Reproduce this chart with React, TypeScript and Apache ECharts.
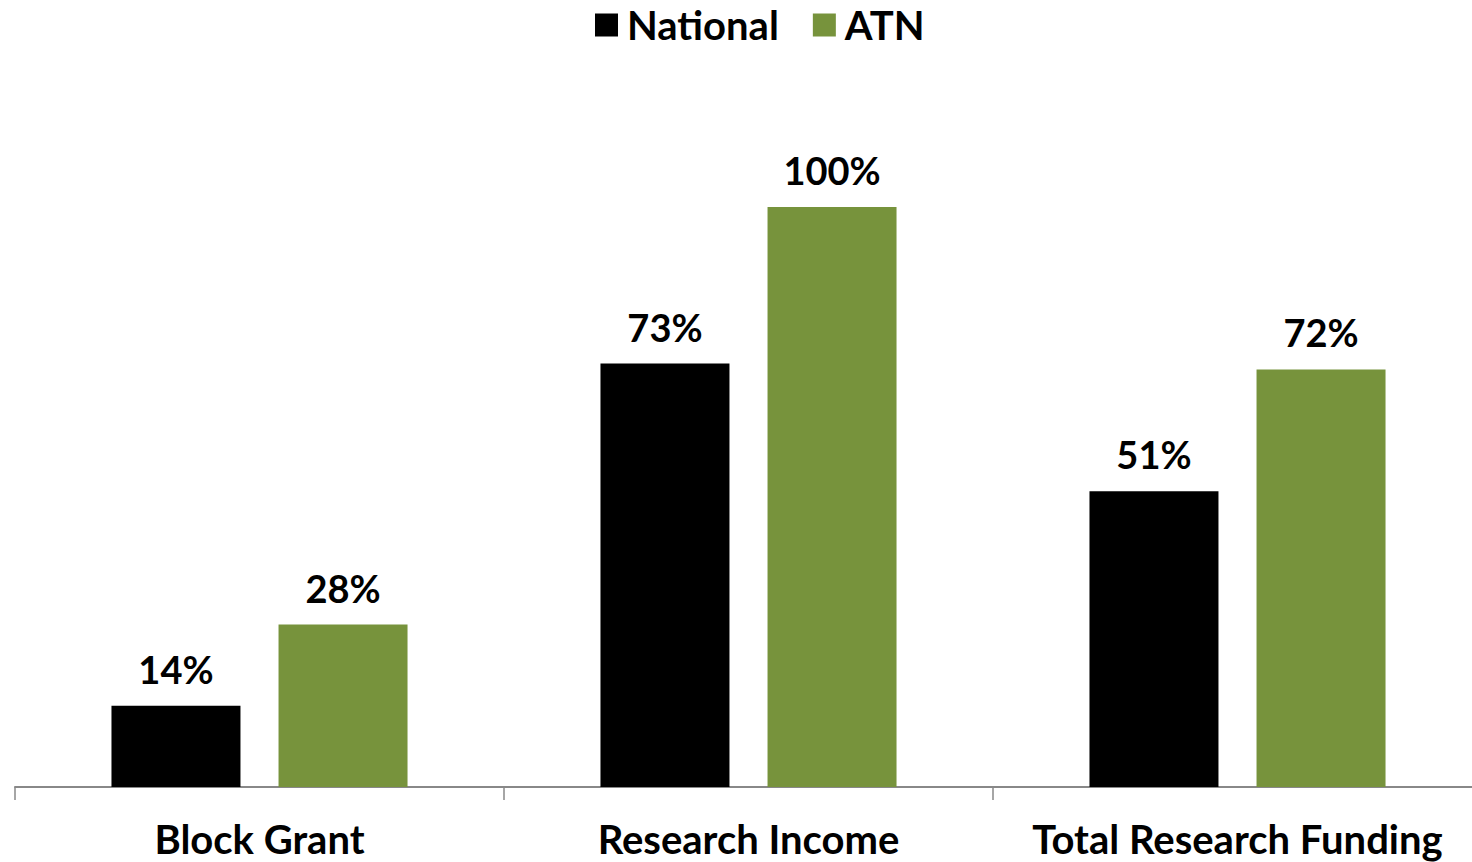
import React, { useEffect, useRef } from "react";
import * as echarts from "echarts";

const categories = ["Block Grant", "Research Income", "Total Research Funding"];
const nationalValues = [14, 73, 51];
const atnValues = [28, 100, 72];
const seriesNames = ["National", "ATN"];

const FONT = "Lato";

export default function App() {
  const ref = useRef<HTMLDivElement>(null);
  useEffect(() => {
    if (!ref.current) return;
    const chart = echarts.init(ref.current, null, { renderer: "svg" });
    const labelStyle = {
      show: true,
      position: "top" as const,
      distance: 18,
      formatter: "{c}%",
      fontFamily: FONT,
      fontWeight: "bold" as const,
      fontSize: 38,
      color: "#000",
    };
    chart.setOption({
      animation: false,
      backgroundColor: "#fff",
      legend: {
        top: 0,
        left: 590,
        itemWidth: 23,
        itemHeight: 23,
        itemGap: 34,
        icon: "rect",
        textStyle: {
          fontFamily: FONT,
          fontWeight: "bold",
          fontSize: 40,
          color: "#000",
          padding: [0, 0, 0, 4],
        },
        data: seriesNames,
      },
      grid: { left: 15, top: 91, width: 1467, height: 696, containLabel: false },
      xAxis: {
        type: "category",
        data: categories,
        axisLine: { lineStyle: { color: "#888", width: 2 } },
        axisTick: { show: true, interval: 0, length: 13, lineStyle: { color: "#888", width: 1.5 } },
        axisLabel: {
          interval: 0,
          fontFamily: FONT,
          fontWeight: "bold",
          fontSize: 40,
          color: "#000",
          margin: 32,
        },
      },
      yAxis: { type: "value", min: 0, max: 120, show: false, splitLine: { show: false } },
      series: [
        {
          name: seriesNames[0],
          type: "bar",
          data: nationalValues,
          barWidth: 129,
          barGap: "29.5%",
          itemStyle: { color: "#000000" },
          label: labelStyle,
        },
        {
          name: seriesNames[1],
          type: "bar",
          data: atnValues,
          barWidth: 129,
          itemStyle: { color: "#77933C" },
          label: labelStyle,
        },
      ],
    });
    return () => chart.dispose();
  }, []);
  return (
    <div style={{ position: "absolute", left: 0, top: 0, width: 1472, height: 862, overflow: "hidden" }}>
      <div ref={ref} style={{ width: 1490, height: 862 }} />
    </div>
  );
}
